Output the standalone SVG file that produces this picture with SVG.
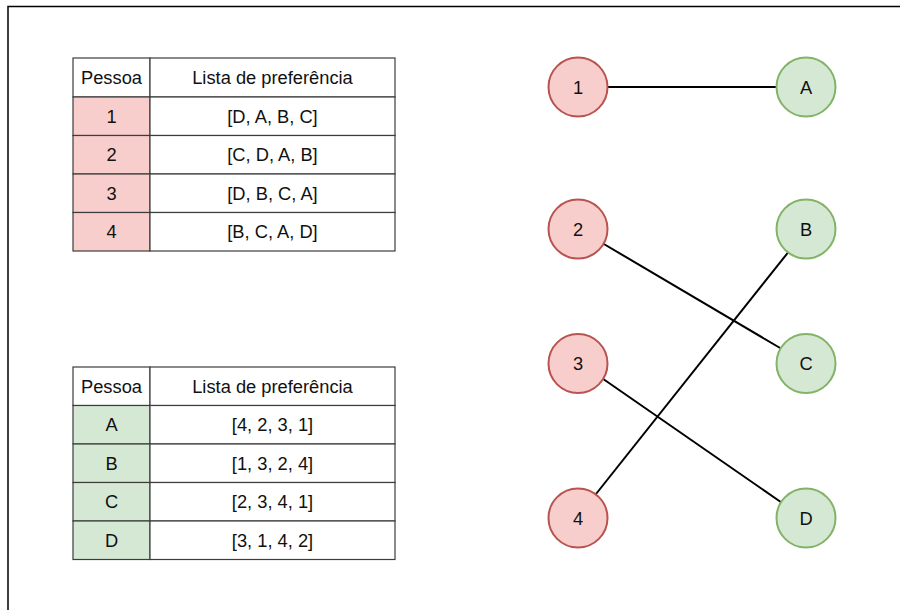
<svg xmlns="http://www.w3.org/2000/svg" width="900" height="610" viewBox="0 0 900 610">
  <style>
    text { font-family: "Liberation Sans", Arial, Helvetica, sans-serif; font-size: 18.3px; fill: #111111; text-anchor: middle; }
    .cell { fill: #ffffff; stroke: #3c3c3c; stroke-width: 1.2; }
    .man { fill: #f8cecc; stroke: #3c3c3c; stroke-width: 1.2; }
    .woman { fill: #d5e8d4; stroke: #3c3c3c; stroke-width: 1.2; }
    .nm { fill: #f8cecc; stroke: #b85450; stroke-width: 2; }
    .nw { fill: #d5e8d4; stroke: #82b366; stroke-width: 2; }
    .edge { stroke: #000000; stroke-width: 2; fill: none; }
  </style>

  <rect width="900" height="610" fill="#ffffff"/>
  <!-- page frame -->
  <path d="M8 610 V6.5 H900" fill="none" stroke="#000000" stroke-width="1.5"/>

  <!-- preferences of group 1 -->
  <g id="table-pessoas-1">
    <rect class="cell" x="73" y="58" width="77" height="39"/>
    <rect class="cell" x="150" y="58" width="245" height="39"/>
    <text x="111.5" y="84">Pessoa</text>
    <text x="272.5" y="84">Lista de preferência</text>

    <rect class="man" x="73" y="97" width="77" height="38.5"/>
    <rect class="cell" x="150" y="97" width="245" height="38.5"/>
    <text x="111.5" y="122.5">1</text>
    <text x="272.5" y="122.5">[D, A, B, C]</text>

    <rect class="man" x="73" y="135.5" width="77" height="38.5"/>
    <rect class="cell" x="150" y="135.5" width="245" height="38.5"/>
    <text x="111.5" y="161">2</text>
    <text x="272.5" y="161">[C, D, A, B]</text>

    <rect class="man" x="73" y="174" width="77" height="38.5"/>
    <rect class="cell" x="150" y="174" width="245" height="38.5"/>
    <text x="111.5" y="199.5">3</text>
    <text x="272.5" y="199.5">[D, B, C, A]</text>

    <rect class="man" x="73" y="212.5" width="77" height="38.5"/>
    <rect class="cell" x="150" y="212.5" width="245" height="38.5"/>
    <text x="111.5" y="238">4</text>
    <text x="272.5" y="238">[B, C, A, D]</text>
  </g>

  <!-- preferences of group 2 -->
  <g id="table-pessoas-2">
    <rect class="cell" x="73" y="367" width="77" height="38.5"/>
    <rect class="cell" x="150" y="367" width="245" height="38.5"/>
    <text x="111.5" y="392.5">Pessoa</text>
    <text x="272.5" y="392.5">Lista de preferência</text>

    <rect class="woman" x="73" y="405.5" width="77" height="38.5"/>
    <rect class="cell" x="150" y="405.5" width="245" height="38.5"/>
    <text x="111.5" y="431">A</text>
    <text x="272.5" y="431">[4, 2, 3, 1]</text>

    <rect class="woman" x="73" y="444" width="77" height="38.5"/>
    <rect class="cell" x="150" y="444" width="245" height="38.5"/>
    <text x="111.5" y="469.5">B</text>
    <text x="272.5" y="469.5">[1, 3, 2, 4]</text>

    <rect class="woman" x="73" y="482.5" width="77" height="38.5"/>
    <rect class="cell" x="150" y="482.5" width="245" height="38.5"/>
    <text x="111.5" y="508">C</text>
    <text x="272.5" y="508">[2, 3, 4, 1]</text>

    <rect class="woman" x="73" y="521" width="77" height="38.5"/>
    <rect class="cell" x="150" y="521" width="245" height="38.5"/>
    <text x="111.5" y="546.5">D</text>
    <text x="272.5" y="546.5">[3, 1, 4, 2]</text>
  </g>

  <!-- matching edges -->
  <g id="connectors">
    <line class="edge" x1="607.5" y1="87" x2="776.5" y2="87"/>
    <line class="edge" x1="603" y1="243.5" x2="781" y2="348.5"/>
    <line class="edge" x1="602.5" y1="378.5" x2="781.5" y2="502.5"/>
    <line class="edge" x1="596" y1="494" x2="788" y2="252.5"/>
  </g>

  <!-- nodes -->
  <g id="node-1"><circle class="nm" cx="578" cy="87" r="29.5"/><text x="578" y="93.5">1</text></g>
  <g id="node-2"><circle class="nm" cx="578" cy="229" r="29.5"/><text x="578" y="235.5">2</text></g>
  <g id="node-3"><circle class="nm" cx="578" cy="363.5" r="29.5"/><text x="578" y="370">3</text></g>
  <g id="node-4"><circle class="nm" cx="578" cy="518" r="29.5"/><text x="578" y="524.5">4</text></g>
  <g id="node-A"><circle class="nw" cx="806" cy="87" r="29.5"/><text x="806" y="93.5">A</text></g>
  <g id="node-B"><circle class="nw" cx="806" cy="229" r="29.5"/><text x="806" y="235.5">B</text></g>
  <g id="node-C"><circle class="nw" cx="806" cy="363.5" r="29.5"/><text x="806" y="370">C</text></g>
  <g id="node-D"><circle class="nw" cx="806" cy="518" r="29.5"/><text x="806" y="524.5">D</text></g>
</svg>
